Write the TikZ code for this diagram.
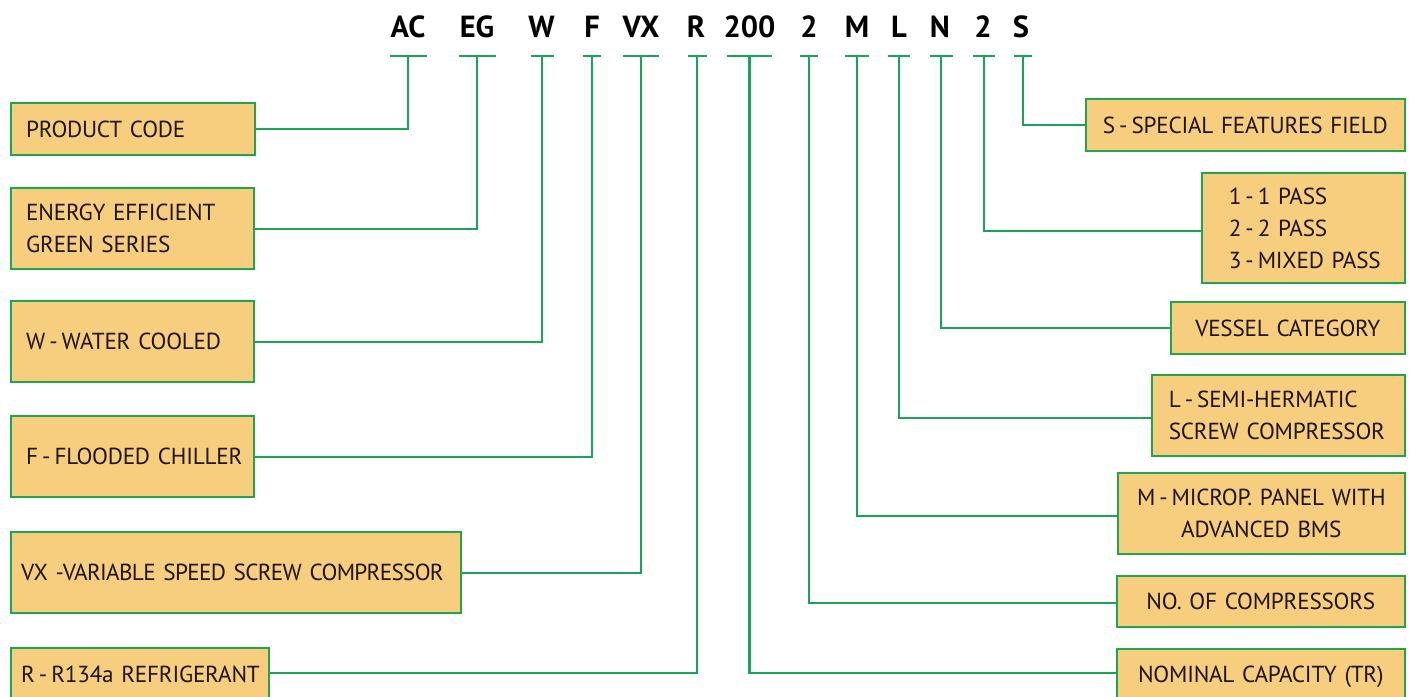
\documentclass[tikz,border=0pt]{standalone}
\usepackage{fontspec}
\setmainfont{PT Sans}[WordSpace=0.85]
\newfontfamily\boxfont{PT Sans}[WordSpace=0.85,LetterSpace=-1]
\newfontfamily\boxfonttight{PT Sans}[WordSpace=0.75,LetterSpace=-3]
\definecolor{boxgreen}{RGB}{30,166,76}
\definecolor{linegreen}{RGB}{22,166,88}
\definecolor{boxfill}{RGB}{247,206,125}
\definecolor{textdark}{RGB}{30,20,15}
\newcommand{\hy}{\kern4pt-\kern4pt}
\tikzset{
  boxbase/.style={draw=boxgreen, line width=2.4pt, fill=boxfill, rectangle, inner ysep=0pt,
    font=\boxfont\fontsize{23.2}{32}\selectfont, text=textdark},
  lbox/.style={boxbase, anchor=north west, align=left, inner xsep=15pt},
  rbox/.style={boxbase, anchor=north east, align=center, inner xsep=10pt},
  rlbox/.style={boxbase, anchor=north east, align=left},
  conn/.style={draw=linegreen, line width=2.4pt},
  codetxt/.style={anchor=base, font=\fontsize{30.5}{30}\selectfont\bfseries, text=black, inner sep=0pt}
}
\begin{document}
\begin{tikzpicture}[x=1pt,y=-1pt]
\useasboundingbox (0,0) rectangle (1413,696);
\clip (0,0) rectangle (1413,696);
\fill[white] (0,0) rectangle (1413,696);

% code letters
\node[codetxt] (c1) at (408,37) {AC};
\node[codetxt] (c2) at (477,37) {EG};
\node[codetxt] (c3) at (541.5,37) {W};
\node[codetxt] (c4) at (592,37) {F};
\node[codetxt] (c5) at (641,37) {VX};
\node[codetxt] (c6) at (696,37) {R};
\node[codetxt] (c7) at (749.5,37) {200};
\node[codetxt] (c8) at (809,37) {2};
\node[codetxt] (c9) at (857,37) {M};
\node[codetxt] (c10) at (899,37) {L};
\node[codetxt] (c11) at (940,37) {N};
\node[codetxt] (c12) at (983,37) {2};
\node[codetxt] (c13) at (1021,37) {S};

% T-bar tops
\coordinate (t1) at (408,56);
\coordinate (t2) at (477,56);
\coordinate (t3) at (542,56);
\coordinate (t4) at (592,56);
\coordinate (t5) at (641,56);
\coordinate (t6) at (697,56);
\coordinate (t7) at (749.5,56);
\coordinate (t8) at (809,56);
\coordinate (t9) at (857,56);
\coordinate (t10) at (899,56);
\coordinate (t11) at (941,56);
\coordinate (t12) at (984,56);
\coordinate (t13) at (1023,56);

\foreach \t/\w in {t1/18.5,t2/18.5,t3/11.5,t4/9,t5/18,t6/9.5,t7/22.5,t8/9,t9/12,t10/11,t11/11.5,t12/11,t13/9}
  \draw[conn] ([xshift=-\w pt]\t) -- ([xshift=\w pt]\t);

% left boxes
\node[lbox, text width=214pt, minimum height=52pt] (b1) at (10,102) {\mbox{PRODUCT CODE}};
\node[lbox, text width=213pt, minimum height=81pt] (b2) at (10,187) {\mbox{ENERGY EFFICIENT}\\\mbox{GREEN SERIES}};
\node[lbox, text width=213pt, minimum height=81pt] (b3) at (10,300) {\mbox{W\hy WATER COOLED}};
\node[lbox, text width=213pt, minimum height=81pt] (b4) at (10,415) {\mbox{F\hy FLOODED CHILLER}};
\node[lbox, inner xsep=10pt, text width=430pt, minimum height=81pt,
  font=\boxfonttight\fontsize{23.2}{32}\selectfont] (b5) at (10,531) {\mbox{VX -VARIABLE SPEED SCREW COMPRESSOR}};
\node[lbox, inner xsep=10pt, text width=238pt, minimum height=52pt] (b6) at (10,647) {\mbox{R\hy R134a REFRIGERANT}};

% right boxes
\node[rbox, text width=299pt, minimum height=52pt] (r1) at (1406,98) {\mbox{S\hy SPECIAL FEATURES FIELD}};
\node[rlbox, inner xsep=27pt, text width=149pt, minimum height=110pt] (r2) at (1406,172) {\mbox{1\hy 1 PASS}\\\mbox{2\hy 2 PASS}\\\mbox{3\hy MIXED PASS}};
\node[rbox, text width=214pt, minimum height=52pt] (r3) at (1406,301) {\mbox{VESSEL CATEGORY}};
\node[rlbox, inner xsep=17pt, text width=219pt, minimum height=81pt] (r4) at (1406,374) {\mbox{L\hy SEMI-HERMATIC}\\\mbox{SCREW COMPRESSOR}};
\node[rbox, text width=267pt, minimum height=81pt] (r5) at (1406,472) {\mbox{M\hy MICROP. PANEL WITH}\\\mbox{ADVANCED BMS}};
\node[rbox, text width=268pt, minimum height=51pt] (r6) at (1406,575) {\mbox{NO. OF COMPRESSORS}};
\node[rbox, text width=268pt, minimum height=55pt] (r7) at (1406,648) {\mbox{NOMINAL CAPACITY (TR)}};

% connectors
\draw[conn] (b1.east) -| (t1);
\draw[conn] (b2.east) -| (t2);
\draw[conn] (b3.east) -| (t3);
\draw[conn] (b4.east) -| (t4);
\draw[conn] (b5.east) -| (t5);
\draw[conn] ([yshift=1pt]b6.east) -| (t6);
\draw[conn] (t7) |- ([yshift=4pt]r7.west);
\draw[conn] (t8) |- ([yshift=-1pt]r6.west);
\draw[conn] (t9) |- ([yshift=-2.5pt]r5.west);
\draw[conn] (t10) |- ([yshift=-2.5pt]r4.west);
\draw[conn] (t11) |- (r3.west);
\draw[conn] (t12) |- ([yshift=-3pt]r2.west);
\draw[conn] (t13) |- (r1.west);
\end{tikzpicture}
\end{document}
